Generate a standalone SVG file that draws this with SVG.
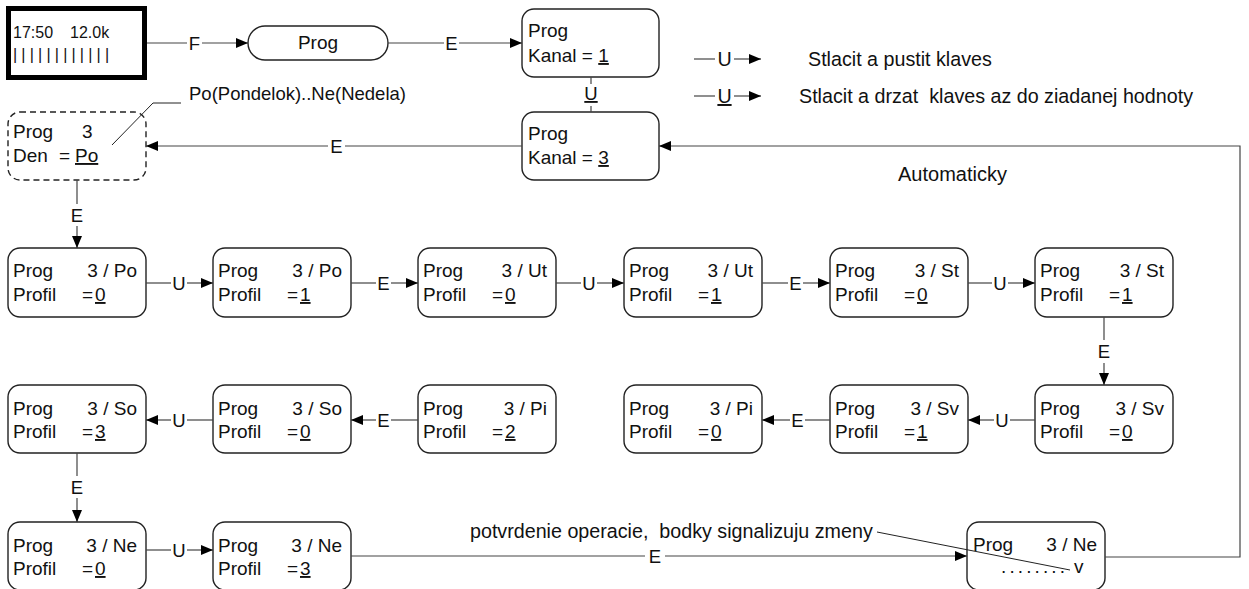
<svg xmlns="http://www.w3.org/2000/svg" width="1249" height="589" viewBox="0 0 1249 589">
<defs>
  <marker id="arr" markerUnits="userSpaceOnUse" markerWidth="12" markerHeight="10" refX="12" refY="5" orient="auto">
    <path d="M0,0 L12,5 L0,10 z" fill="#000"/>
  </marker>
</defs>
<style>
  text { font-family: "Liberation Sans", Arial, sans-serif; font-size: 18.5px; fill: #111; }
  g.nd text { font-size: 19px; }
  .node { fill: #fff; stroke: #222; stroke-width: 1.4; }
  .dash { stroke-dasharray: 6 4; }
  .conn line, .conn polyline { stroke: #444; stroke-width: 1.2; fill: none; }
  .lead { stroke: #222; stroke-width: 1; fill: none; }
  .lbl { text-anchor: middle; }
  .r { text-anchor: end; }
  .u { text-decoration: underline; }
  .disp { font-size: 16px; }
  .big { font-size: 19.7px; }
</style>
<rect width="1249" height="589" fill="#fff"/>

<!-- display screen -->
<g id="display">
  <rect x="8.5" y="8.5" width="136" height="69" fill="#fff" stroke="#000" stroke-width="5"/>
  <text class="disp" x="13" y="38">17:50</text>
  <text class="disp" x="70" y="38">12.0k</text>
  <text class="disp" x="13" y="60" letter-spacing="4.2">||||||||||||</text>
</g>

<g id="prog" class="nd">
  <rect class="node" x="248" y="26" width="140" height="34" rx="17"/>
  <text class="lbl" x="318" y="49">Prog</text>
</g>

<g id="kanal1" class="nd">
  <rect class="node" x="522" y="9" width="137" height="68" rx="12"/>
  <text x="528" y="37">Prog</text>
  <text x="528" y="62">Kanal = <tspan class="u">1</tspan></text>
</g>

<g id="kanal3" class="nd">
  <rect class="node" x="522" y="112" width="137" height="68" rx="12"/>
  <text x="528" y="140">Prog</text>
  <text x="528" y="164">Kanal = <tspan class="u">3</tspan></text>
</g>

<g id="den" class="nd">
  <rect class="node dash" x="8" y="112" width="138" height="68" rx="12"/>
  <text x="13" y="138">Prog</text>
  <text x="82" y="138">3</text>
  <text x="13" y="162">Den</text>
  <text x="59" y="162">=</text>
  <text x="75" y="162" class="u">Po</text>
</g>

<!-- profile row: Po / Ut / St -->
<g id="po0" class="nd"><rect class="node" x="8" y="248" width="138" height="69" rx="12"/><text x="13" y="277">Prog</text><text class="r" x="137" y="277">3 / Po</text><text x="13" y="301">Profil</text><text x="82" y="301">=</text><text class="u" x="95" y="301">0</text></g>
<g id="po1" class="nd"><rect class="node" x="213" y="248" width="138" height="69" rx="12"/><text x="218" y="277">Prog</text><text class="r" x="342" y="277">3 / Po</text><text x="218" y="301">Profil</text><text x="287" y="301">=</text><text class="u" x="300" y="301">1</text></g>
<g id="ut0" class="nd"><rect class="node" x="418" y="248" width="138" height="69" rx="12"/><text x="423" y="277">Prog</text><text class="r" x="547" y="277">3 / Ut</text><text x="423" y="301">Profil</text><text x="492" y="301">=</text><text class="u" x="505" y="301">0</text></g>
<g id="ut1" class="nd"><rect class="node" x="624" y="248" width="138" height="69" rx="12"/><text x="629" y="277">Prog</text><text class="r" x="753" y="277">3 / Ut</text><text x="629" y="301">Profil</text><text x="698" y="301">=</text><text class="u" x="711" y="301">1</text></g>
<g id="st0" class="nd"><rect class="node" x="830" y="248" width="138" height="69" rx="12"/><text x="835" y="277">Prog</text><text class="r" x="959" y="277">3 / St</text><text x="835" y="301">Profil</text><text x="904" y="301">=</text><text class="u" x="917" y="301">0</text></g>
<g id="st1" class="nd"><rect class="node" x="1035" y="248" width="138" height="69" rx="12"/><text x="1040" y="277">Prog</text><text class="r" x="1164" y="277">3 / St</text><text x="1040" y="301">Profil</text><text x="1109" y="301">=</text><text class="u" x="1122" y="301">1</text></g>

<!-- profile row: So / Pi / Sv -->
<g id="so3" class="nd"><rect class="node" x="8" y="385" width="138" height="68" rx="12"/><text x="13" y="415">Prog</text><text class="r" x="137" y="415">3 / So</text><text x="13" y="438">Profil</text><text x="82" y="438">=</text><text class="u" x="95" y="438">3</text></g>
<g id="so0" class="nd"><rect class="node" x="213" y="385" width="138" height="68" rx="12"/><text x="218" y="415">Prog</text><text class="r" x="342" y="415">3 / So</text><text x="218" y="438">Profil</text><text x="287" y="438">=</text><text class="u" x="300" y="438">0</text></g>
<g id="pi2" class="nd"><rect class="node" x="418" y="385" width="138" height="68" rx="12"/><text x="423" y="415">Prog</text><text class="r" x="547" y="415">3 / Pi</text><text x="423" y="438">Profil</text><text x="492" y="438">=</text><text class="u" x="505" y="438">2</text></g>
<g id="pi0" class="nd"><rect class="node" x="624" y="385" width="138" height="68" rx="12"/><text x="629" y="415">Prog</text><text class="r" x="753" y="415">3 / Pi</text><text x="629" y="438">Profil</text><text x="698" y="438">=</text><text class="u" x="711" y="438">0</text></g>
<g id="sv1" class="nd"><rect class="node" x="830" y="385" width="138" height="68" rx="12"/><text x="835" y="415">Prog</text><text class="r" x="959" y="415">3 / Sv</text><text x="835" y="438">Profil</text><text x="904" y="438">=</text><text class="u" x="917" y="438">1</text></g>
<g id="sv0" class="nd"><rect class="node" x="1035" y="385" width="138" height="68" rx="12"/><text x="1040" y="415">Prog</text><text class="r" x="1164" y="415">3 / Sv</text><text x="1040" y="438">Profil</text><text x="1109" y="438">=</text><text class="u" x="1122" y="438">0</text></g>

<!-- profile row: Ne -->
<g id="ne0" class="nd"><rect class="node" x="8" y="522" width="138" height="68" rx="12"/><text x="13" y="552">Prog</text><text class="r" x="137" y="552">3 / Ne</text><text x="13" y="575">Profil</text><text x="82" y="575">=</text><text class="u" x="95" y="575">0</text></g>
<g id="ne3" class="nd"><rect class="node" x="213" y="522" width="138" height="68" rx="12"/><text x="218" y="552">Prog</text><text class="r" x="342" y="552">3 / Ne</text><text x="218" y="575">Profil</text><text x="287" y="575">=</text><text class="u" x="300" y="575">3</text></g>

<g id="confirm" class="nd">
  <rect class="node" x="967" y="522" width="138" height="68" rx="12"/>
  <text x="973" y="551">Prog</text>
  <text class="r" x="1097" y="551">3 / Ne</text>
  <text x="1001" y="573" letter-spacing="3.1">........</text>
  <text x="1074" y="573">v</text>
</g>

<!-- legend -->
<g id="legend">
  <g class="conn">
    <line x1="694" y1="59" x2="715" y2="59"/>
    <line x1="734" y1="59" x2="761" y2="59" marker-end="url(#arr)"/>
    <line x1="694" y1="96" x2="715" y2="96"/>
    <line x1="734" y1="96" x2="761" y2="96" marker-end="url(#arr)"/>
  </g>
  <text class="lbl big" x="724.5" y="66">U</text>
  <text class="lbl big u" x="724.5" y="103">U</text>
  <text class="big" x="808" y="66">Stlacit a pustit klaves</text>
  <text class="big" x="799" y="102.5" xml:space="preserve" style="white-space:pre">Stlacit a drzat  klaves az do ziadanej hodnoty</text>
</g>

<!-- notes -->
<g id="notes">
  <polyline class="lead" points="112,145 153,103 181,103"/>
  <text x="189" y="100">Po(Pondelok)..Ne(Nedela)</text>
  <text x="898" y="181" style="font-size:20px">Automaticky</text>
  <line class="lead" x1="877" y1="532" x2="1070" y2="570"/>
  <text class="big" x="470" y="538" xml:space="preserve" style="white-space:pre">potvrdenie operacie,  bodky signalizuju zmeny</text>
</g>

<!-- connectors -->
<g id="connectors">
  <g class="conn">
    <line x1="147" y1="43" x2="187" y2="43"/>
    <line x1="202" y1="43" x2="248" y2="43" marker-end="url(#arr)"/>
    <line x1="388" y1="43" x2="444" y2="43"/>
    <line x1="459" y1="43" x2="522" y2="43" marker-end="url(#arr)"/>
    <line x1="591" y1="77" x2="591" y2="84"/>
    <line x1="591" y1="106" x2="591" y2="112"/>
    <line x1="522" y1="146" x2="345" y2="146"/>
    <line x1="328" y1="146" x2="146" y2="146" marker-end="url(#arr)"/>
    <polyline points="1105,557 1240,557 1240,146 659,146" marker-end="url(#arr)"/>
    <line x1="77" y1="180" x2="77" y2="204"/>
    <line x1="77" y1="226" x2="77" y2="248" marker-end="url(#arr)"/>
    <!-- Po / Ut / St row -->
    <line x1="146" y1="283" x2="171" y2="283"/>
    <line x1="187" y1="283" x2="213" y2="283" marker-end="url(#arr)"/>
    <line x1="351" y1="283" x2="376" y2="283"/>
    <line x1="391" y1="283" x2="418" y2="283" marker-end="url(#arr)"/>
    <line x1="556" y1="283" x2="581" y2="283"/>
    <line x1="597" y1="283" x2="624" y2="283" marker-end="url(#arr)"/>
    <line x1="762" y1="283" x2="788" y2="283"/>
    <line x1="803" y1="283" x2="830" y2="283" marker-end="url(#arr)"/>
    <line x1="968" y1="283" x2="992" y2="283"/>
    <line x1="1008" y1="283" x2="1035" y2="283" marker-end="url(#arr)"/>
    <line x1="1104" y1="317" x2="1104" y2="340"/>
    <line x1="1104" y1="363" x2="1104" y2="385" marker-end="url(#arr)"/>
    <!-- So / Pi / Sv row -->
    <line x1="213" y1="420" x2="187" y2="420"/>
    <line x1="171" y1="420" x2="146" y2="420" marker-end="url(#arr)"/>
    <line x1="418" y1="420" x2="391" y2="420"/>
    <line x1="376" y1="420" x2="351" y2="420" marker-end="url(#arr)"/>
    <line x1="830" y1="420" x2="805" y2="420"/>
    <line x1="790" y1="420" x2="762" y2="420" marker-end="url(#arr)"/>
    <line x1="1035" y1="420" x2="1010" y2="420"/>
    <line x1="994" y1="420" x2="968" y2="420" marker-end="url(#arr)"/>
    <line x1="77" y1="453" x2="77" y2="476"/>
    <line x1="77" y1="498" x2="77" y2="522" marker-end="url(#arr)"/>
    <!-- Ne row -->
    <line x1="146" y1="550" x2="171" y2="550"/>
    <line x1="187" y1="550" x2="213" y2="550" marker-end="url(#arr)"/>
    <line x1="351" y1="556" x2="645" y2="556"/>
    <line x1="665" y1="556" x2="967" y2="556" marker-end="url(#arr)"/>
  </g>
  <text class="lbl" x="194.5" y="49.5">F</text>
  <text class="lbl" x="451.5" y="49.5">E</text>
  <text class="lbl u" x="591" y="100">U</text>
  <text class="lbl" x="336.5" y="152.5">E</text>
  <text class="lbl" x="77" y="221.5">E</text>
  <text class="lbl" x="179" y="289.5">U</text>
  <text class="lbl" x="383.5" y="289.5">E</text>
  <text class="lbl" x="589" y="289.5">U</text>
  <text class="lbl" x="795.5" y="289.5">E</text>
  <text class="lbl" x="1000" y="289.5">U</text>
  <text class="lbl" x="1104" y="358">E</text>
  <text class="lbl" x="179" y="426.5">U</text>
  <text class="lbl" x="383.5" y="426.5">E</text>
  <text class="lbl" x="797.5" y="426.5">E</text>
  <text class="lbl" x="1002" y="426.5">U</text>
  <text class="lbl" x="77" y="493.5">E</text>
  <text class="lbl" x="179" y="556.5">U</text>
  <text class="lbl" x="655" y="562.5">E</text>
</g>
</svg>
